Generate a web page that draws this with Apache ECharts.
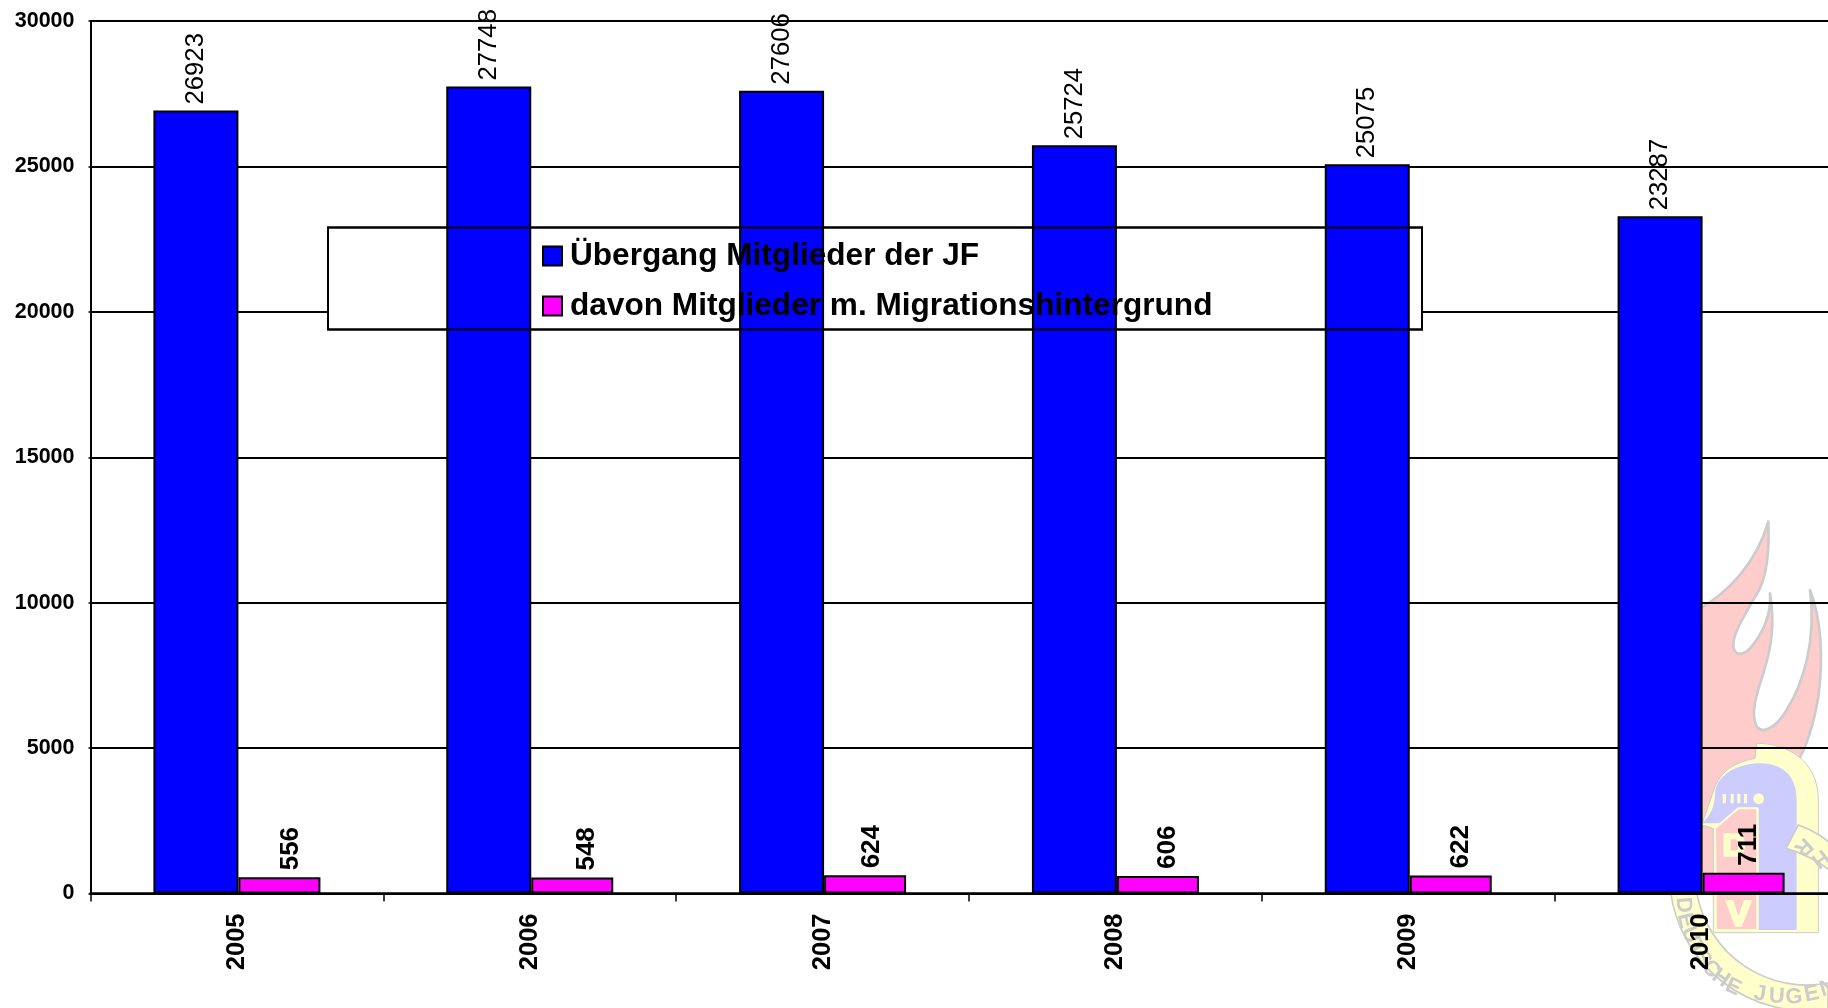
<!DOCTYPE html>
<html><head><meta charset="utf-8">
<style>html,body{margin:0;padding:0;background:#fff;overflow:hidden}#c{width:1828px;height:1008px}</style>
<script src="https://cdn.jsdelivr.net/npm/echarts@6/dist/echarts.min.js"></script>
</head><body><div id="c"></div>
<script>
const categories = ['2005','2006','2007','2008','2009','2010'];
const members = [26923,27748,27606,25724,25075,23287];
const migration = [556,548,624,606,622,711];
const seriesNames = ['Übergang Mitglieder der JF','davon Mitglieder m. Migrationshintergrund'];
const migrationLabelShift = [11,15,7,10,10,5];
const FONT = '"Liberation Sans", Arial, sans-serif';

let shapeId = 0;
function P(d, fill, stroke, lw){
  const name = 'logoShape' + (shapeId++);
  echarts.graphic.registerShape(name, echarts.graphic.extendPath(d, {}));
  return {type:name, z:0, silent:true, style:{fill, stroke:stroke||null, lineWidth:lw||0, lineJoin:'round'}};
}
const GREY='#CCCCCC', PINK='#FFCCCC', YEL='#FFFFCC', LAV='#CCCCFF';
const logo = [
 P('M300 325 C380 280 470 190 505 65 C508 140 505 210 480 265 C450 320 395 400 400 440 C405 470 430 465 450 445 C490 400 515 340 510 280 C525 370 515 440 490 520 C470 580 450 640 470 680 C490 705 530 680 560 630 C610 550 650 420 630 270 C665 360 670 480 655 590 C640 680 620 740 590 790 L590 1000 L340 1170 L300 1170 Z', PINK, GREY, 8),
 P('M211 1170 A412 412 0 0 0 684 1527 L684 1449 A335 335 0 0 1 289 1170 Z', YEL, GREY, 5),
 P('M470 730 C560 730 655 780 655 900 L655 1298 L340 1298 L340 985 L305 975 L345 860 C370 800 420 785 465 775 Z', YEL, GREY, 3),
 P('M305 970 C330 950 345 920 345 880 C350 820 420 790 480 790 C550 790 590 830 590 900 L590 1290 L476 1290 L476 925 L415 925 L370 970 Z', LAV),
 P('M345 985 L415 925 L472 925 L472 1290 L348 1290 Z', PINK, YEL, 6),
 P('M368 882 h10 v28 h-10z M392 882 h9 v28 h-9z M412 882 h9 v28 h-9z M432 882 h9 v28 h-9z', YEL),
 {type:'circle', z:0, silent:true, shape:{cx:476,cy:896,r:16}, style:{fill:YEL}},
 P('M370 1000 L370 1070 L410 1070 C445 1060 445 1010 410 1000 Z M392 1018 L408 1018 C420 1025 420 1045 408 1052 L392 1052 Z', YEL),
 P('M375 1200 L400 1200 L415 1248 L432 1200 L457 1200 L425 1280 L405 1280 Z', YEL),
 P('M595 975 C640 990 684 1020 700 1040 L700 1120 C660 1085 610 1060 558 1045 Z', YEL, GREY, 5),
];
const letter = (t,x,y,r) => ({type:'text', z:0, x, y, rotation:r, silent:true, style:{text:t, fill:GREY, font:'bold 66px '+FONT, align:'center', verticalAlign:'middle'}});
logo.push(letter('R',610,1040,-2.4), letter('H',660,1075,-2.5),
  letter('D',250,1215,-1.5), letter('E',256,1262,-1.35), letter('U',270,1305,-1.2), letter('T',288,1345,-1.05),
  letter('S',308,1378,-.9), letter('C',332,1408,-.75), letter('H',362,1435,-.6), letter('E',400,1462,-.45),
  letter('J',480,1482,-.15), letter('U',530,1490,-.05), letter('G',582,1492,.05), letter('E',635,1482,.2), letter('N',684,1465,.3));

const chart = echarts.init(document.getElementById('c'), null, {renderer:'canvas'});
const axisLabelBase = {color:'#000', fontFamily:FONT, fontWeight:'bold'};
const barBase = {type:'bar', barGap:'0%', z:2};
chart.setOption({
  animation:false,
  backgroundColor:'#fff',
  textStyle:{fontFamily:FONT},
  grid:{left:90.5, top:21, width:1757, height:872.5, outerBoundsMode:'none', containLabel:false},
  legend:{show:true, orient:'vertical', left:537, top:235, itemWidth:19, itemHeight:19, itemGap:18, z:4, icon:'rect',
    textStyle:{color:'#000', fontFamily:FONT, fontWeight:'bold', fontSize:31.6, padding:[4,0,0,3]}},
  xAxis:{type:'category', data:categories, z:1,
    axisLine:{lineStyle:{color:'#000', width:2.5}},
    axisTick:{show:true, alignWithLabel:false, length:8, lineStyle:{color:'#000', width:1.5}},
    axisLabel:{...axisLabelBase, fontSize:25.5, rotate:90, margin:20}},
  yAxis:{type:'value', min:0, max:30000, interval:5000, z:1,
    axisLine:{show:true, lineStyle:{color:'#000', width:2}},
    axisTick:{show:true, length:2, lineStyle:{color:'#000', width:1.5}},
    splitLine:{show:true, lineStyle:{color:'#000', width:2}},
    axisLabel:{...axisLabelBase, fontSize:21.5, margin:16, padding:[5,0,0,0], formatter:(v)=>String(v)}},
  graphic:{elements:[
    {type:'group', z:0, x:1600, y:500, scaleX:1/3, scaleY:1/3, silent:true, children:logo},
    {type:'rect', z:1.5, silent:true, shape:{x:328,y:227.5,width:1094,height:102}, style:{fill:'#fff', stroke:'#000', lineWidth:2}},
    {type:'rect', z:3, silent:true, shape:{x:328,y:227.5,width:1094,height:102}, style:{fill:'none', stroke:'#000', lineWidth:2}}
  ]},
  series:[
    {...barBase, name:seriesNames[0], data:members, barWidth:85,
     itemStyle:{color:'#0000FF', borderColor:'#000', borderWidth:2},
     label:{show:true, position:'top', rotate:90, align:'left', verticalAlign:'middle', distance:6, color:'#000', fontSize:25.7, fontFamily:FONT, fontWeight:'normal'}},
    {...barBase, name:seriesNames[1], data:migration, barWidth:82,
     itemStyle:{color:'#FF00FF', borderColor:'#000', borderWidth:2},
     label:{show:true, position:'top', rotate:90, align:'left', verticalAlign:'middle', distance:7, color:'#000', fontSize:26, fontFamily:FONT, fontWeight:'bold'},
     labelLayout:(p)=>({dy:migrationLabelShift[p.dataIndex]})}
  ]
});
</script></body></html>
